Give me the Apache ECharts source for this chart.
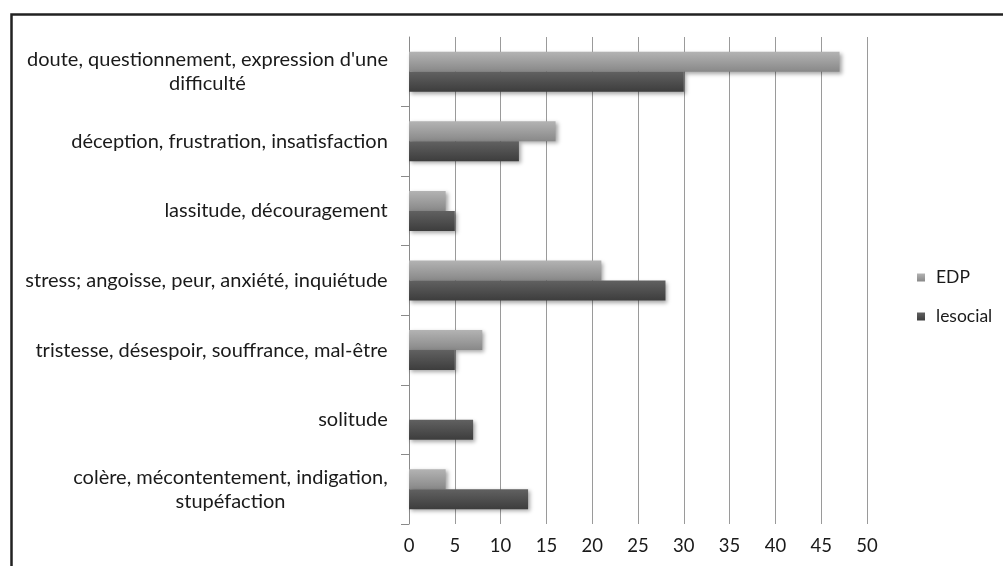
<!DOCTYPE html>
<html>
<head>
<meta charset="utf-8">
<style>
html,body{margin:0;padding:0;background:#fff;}
#chart{width:1003px;height:566px;}
</style>
<script src="https://cdn.jsdelivr.net/npm/echarts@6/dist/echarts.min.js"></script>
</head>
<body>
<div id="chart"></div>
<script>
const categories = [
  "doute, questionnement, expression d'une\ndifficulté",
  "déception, frustration, insatisfaction",
  "lassitude, découragement",
  "stress; angoisse, peur, anxiété, inquiétude",
  "tristesse, désespoir, souffrance, mal-être",
  "solitude",
  "colère, mécontentement, indigation,\nstupéfaction"
];
const edpValues = [47, 16, 4, 21, 8, 0, 4];
const lesocialValues = [30, 12, 5, 28, 5, 7, 13];
const xTicks = { min: 0, max: 50, interval: 5 };

const FONT = 'Lato';
const FS = 20;
const canvas = document.createElement('canvas');
const ctx = canvas.getContext('2d');
ctx.font = FS + 'px ' + FONT;
const rich = {};
categories.forEach(function (c, i) {
  const lines = c.split('\n');
  let w = 0;
  lines.forEach(function (l) { w = Math.max(w, ctx.measureText(l).width); });
  rich['w' + i] = { width: Math.ceil(w), align: 'center', fontFamily: FONT, fontSize: FS, color: '#1a1a1a', lineHeight: 24 };
});

function grad(top, bottom) {
  return new echarts.graphic.LinearGradient(0, 0, 0, 1, [
    { offset: 0, color: top }, { offset: 1, color: bottom }
  ]);
}

const chart = echarts.init(document.getElementById('chart'), null, { renderer: 'canvas' });
chart.setOption({
  animation: false,
  backgroundColor: '#fff',
  graphic: [
    { type: 'rect', left: 9, top: 12, z: 100, silent: true,
      shape: { width: 1200, height: 800 },
      style: { fill: 'none', stroke: '#222', lineWidth: 2.5 } }
  ],
  grid: { left: 409, top: 37, right: 136, bottom: 42, containLabel: false },
  legend: {
    orient: 'vertical',
    left: 912, top: 263,
    itemWidth: 8, itemHeight: 8, itemGap: 20,
    icon: 'rect',
    textStyle: { fontFamily: FONT, fontSize: 17.5, lineHeight: 19, color: '#1a1a1a', padding: [0, 0, 0, 6] },
    data: ['EDP', 'lesocial']
  },
  xAxis: {
    type: 'value',
    min: xTicks.min, max: xTicks.max, interval: xTicks.interval,
    axisLine: { show: false },
    axisTick: { show: false },
    splitLine: { show: true, lineStyle: { color: '#9a9a9a', width: 1 } },
    axisLabel: { fontFamily: FONT, fontSize: 18.5, color: '#1a1a1a', margin: 13 }
  },
  yAxis: {
    type: 'category',
    inverse: true,
    data: categories,
    axisLine: { show: true, lineStyle: { color: '#8a8a8a', width: 1 } },
    axisTick: { show: true, length: 8, lineStyle: { color: '#8a8a8a' },
      interval: function (i) { return i !== 0; } },
    axisLabel: {
      margin: 21,
      formatter: function (v, i) {
        return v.split('\n').map(function (l) { return '{w' + i + '|' + l + '}'; }).join('\n');
      },
      rich: rich
    }
  },
  series: [
    {
      name: 'EDP', type: 'bar', data: edpValues,
      barWidth: 20, barGap: '0%',
      itemStyle: {
        color: grad('#b3b3b3', '#888888'),
        shadowColor: 'rgba(0,0,0,0.35)', shadowBlur: 4, shadowOffsetX: 2, shadowOffsetY: 2
      }
    },
    {
      name: 'lesocial', type: 'bar', data: lesocialValues,
      barWidth: 20, barGap: '0%',
      itemStyle: {
        color: grad('#616161', '#3d3d3d'),
        shadowColor: 'rgba(0,0,0,0.35)', shadowBlur: 4, shadowOffsetX: 2, shadowOffsetY: 2
      }
    }
  ]
});
</script>
</body>
</html>
